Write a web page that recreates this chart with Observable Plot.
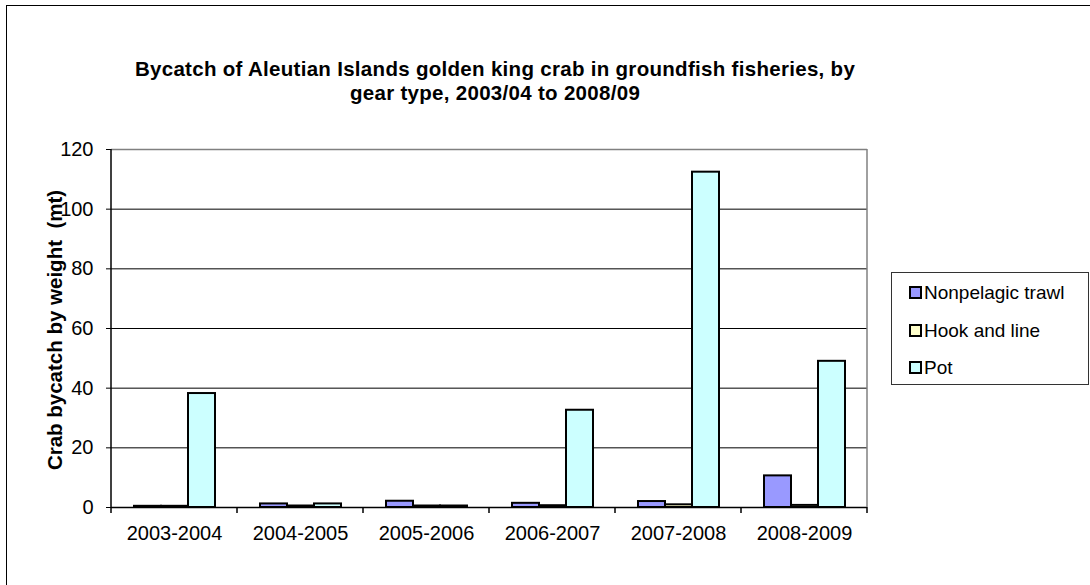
<!DOCTYPE html>
<html>
<head>
<meta charset="utf-8">
<script src="https://cdn.jsdelivr.net/npm/d3@7"></script>
<script src="https://cdn.jsdelivr.net/npm/@observablehq/plot@0.6"></script>
<style>
  html, body { margin: 0; padding: 0; background: #fff; }
  #wrap { position: relative; width: 1090px; height: 585px; overflow: hidden; font-family: "Liberation Sans", Arial, sans-serif; color: #000; }
  #border { position: absolute; left: 6px; top: 5px; width: 1200px; height: 700px; border: 1.5px solid #000; box-sizing: border-box; }
  #chart { position: absolute; left: 0; top: 0; }
  #title { position: absolute; left: 0; width: 990px; top: 57px; text-align: center; font-weight: bold; font-size: 20.5px; line-height: 23.5px; letter-spacing: 0.3px; }
  #ylabel { position: absolute; left: 55px; top: 330px; transform: translate(-50%, -50%) rotate(-90deg); white-space: nowrap; font-weight: bold; font-size: 20.5px; }
  #legend { position: absolute; left: 891px; top: 272px; width: 198px; height: 113px; border: 1px solid #333; box-sizing: border-box; background: #fff; }
  .item { position: absolute; left: 17px; display: flex; align-items: center; font-size: 19px; line-height: 19px; }
  .sw { width: 9px; height: 9px; border: 2px solid #000; margin-right: 2px; }
</style>
</head>
<body>
<div id="wrap">
  <div id="border"></div>
  <div id="chart"></div>
  <div id="title">Bycatch of Aleutian Islands golden king crab in groundfish fisheries, by<br>gear type, 2003/04 to 2008/09</div>
  <div id="ylabel">Crab bycatch by weight&nbsp; (mt)</div>
  <div id="legend"></div>
</div>
<script>
// ---- data ----
const years = ["2003-2004", "2004-2005", "2005-2006", "2006-2007", "2007-2008", "2008-2009"];
const gears = ["Nonpelagic trawl", "Hook and line", "Pot"];
const trawl = [0.4, 1.2, 2.1, 1.4, 2.0, 10.6];
const hookLine = [0.4, 0.5, 0.5, 0.6, 0.9, 0.7];
const pot = [38.2, 1.2, 0.5, 32.6, 112.4, 49.0];
const yTicks = [0, 20, 40, 60, 80, 100, 120];
const gearColors = ["#9999FF", "#FFFFCC", "#CCFFFF"];

const series = [trawl, hookLine, pot];
const rows = [];
years.forEach((yr, i) => gears.forEach((g, j) => rows.push({year: yr, gear: g, value: series[j][i]})));

const chart = Plot.plot({
  width: 1090,
  height: 585,
  marginLeft: 111,
  marginRight: 223,
  marginTop: 149,
  marginBottom: 78,
  style: {fontFamily: "'Liberation Sans', Arial, sans-serif", color: "#000", background: "transparent", overflow: "visible"},
  fx: {domain: years, paddingInner: 0, paddingOuter: 0, label: null},
  x: {domain: gears, paddingInner: 0, paddingOuter: 0.833, axis: null},
  y: {domain: [0, 120], label: null},
  color: {domain: gears, range: gearColors},
  marks: [
    Plot.gridY({ticks: yTicks.slice(1, -1), stroke: "#000", strokeOpacity: 1, strokeWidth: 1}),
    Plot.ruleY([120], {stroke: "#808080", strokeWidth: 1.5}),
    Plot.barY(rows, {fx: "year", x: "gear", y: "value", fill: "gear", stroke: "#000", strokeWidth: 2}),
    Plot.ruleY([0], {stroke: "#000", strokeWidth: 1.5}),
    Plot.axisY({ticks: yTicks, tickSize: 5, tickPadding: 13, fontSize: 20, label: null, tickFormat: d => String(d)}),
    Plot.axisFx({anchor: "bottom", tickSize: 0, tickPadding: 18, fontSize: 20, label: null})
  ]
});
document.getElementById("chart").appendChild(chart);

// frame lines and category boundary ticks drawn from the library scales
const fx = chart.scale("fx");
const ys = chart.scale("y");
const bw = fx.bandwidth;
const left = fx.apply(years[0]);
const right = fx.apply(years[years.length - 1]) + bw;
const y0 = ys.apply(0), y1 = ys.apply(120);
const g = d3.select(chart).append("g");
g.append("line").attr("x1", right).attr("x2", right).attr("y1", y1).attr("y2", y0).attr("stroke", "#808080").attr("stroke-width", 1.5);
g.append("line").attr("x1", left).attr("x2", left).attr("y1", y1).attr("y2", y0 + 1).attr("stroke", "#000").attr("stroke-width", 1.5);
const bounds = years.map(y => fx.apply(y)).concat([right]);
bounds.forEach(b => g.append("line").attr("x1", b).attr("x2", b).attr("y1", y0).attr("y2", y0 + 6).attr("stroke", "#000").attr("stroke-width", 1.5));

// legend
const legend = document.getElementById("legend");
gears.forEach((name, i) => {
  const it = document.createElement("div");
  it.className = "item";
  it.style.top = (10 + i * 37.5) + "px";
  const sw = document.createElement("div");
  sw.className = "sw";
  sw.style.background = gearColors[i];
  it.appendChild(sw);
  const t = document.createElement("span");
  t.textContent = name;
  it.appendChild(t);
  legend.appendChild(it);
});
</script>
</body>
</html>
